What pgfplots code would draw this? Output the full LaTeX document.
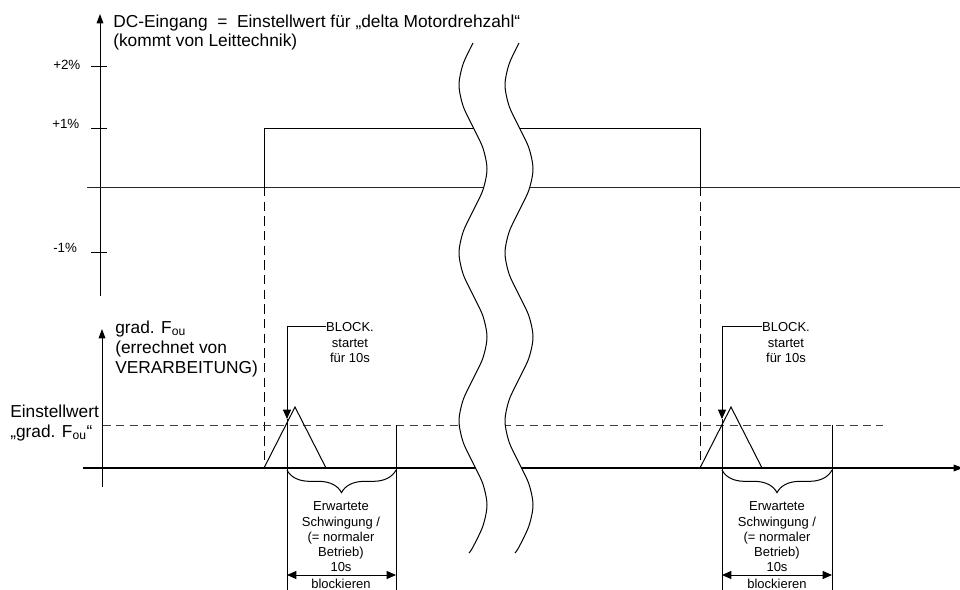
\documentclass[border=0pt]{standalone}
\usepackage{fontspec}
\setmainfont{Liberation Sans}
\usepackage{pgfplots}
\pgfplotsset{compat=1.18}
\usetikzlibrary{arrows.meta, decorations.pathreplacing}

\newcommand{\bigf}{\fontsize{13pt}{15pt}\selectfont}
\newcommand{\smallf}{\fontsize{9.75pt}{12pt}\selectfont}
\newcommand{\tickf}{\fontsize{10pt}{12pt}\selectfont}

% wave lines (break marks)
\pgfplotstableread{
y xl xr
43 473 519
64 463.1 509.1
85 459 505
106 463.1 509.1
127 473 519
148 482.9 528.9
169 487 533
190 482.9 528.9
211 473 519
232 463.1 509.1
253 459 505
274 463.1 509.1
295 473 519
316 482.9 528.9
337 487 533
358 482.9 528.9
379 473 519
400 463.1 509.1
421 459 505
442 463.1 509.1
463 473 519
484 482.9 528.9
505 487 533
526 482.9 528.9
547 473 519
553 469 515
}\wave

\begin{document}
\begin{tikzpicture}[every node/.append style={inner sep=0pt}]
\begin{axis}[
    width=720pt, height=441.75pt, scale only axis,
    xmin=0, xmax=960, ymin=0, ymax=589,
    y dir=reverse,
    hide axis, clip=false,
]
% ---- top panel
\addplot[black, line width=0.75pt, -{Triangle[length=7pt,width=5pt]}] coordinates {(100,296) (100,14)};
\addplot[black, line width=0.75pt] coordinates {(91,66) (107,66)};
\addplot[black, line width=0.75pt] coordinates {(91,128) (107,128)};
\addplot[black, line width=0.75pt] coordinates {(91,252) (107,252)};
\addplot[black!85, line width=0.75pt] coordinates {(87,187) (960,187)};
\addplot[black, line width=0.75pt] coordinates {(264,187) (264,128) (700,128) (700,187)};
\addplot[black, line width=0.75pt, dash pattern=on 7pt off 4pt] coordinates {(264,187) (264,468)};
\addplot[black, line width=0.75pt, dash pattern=on 7pt off 4pt] coordinates {(700,187) (700,468)};

% ---- bottom panel
\addplot[black, line width=0.75pt, -{Triangle[length=7pt,width=5pt]}] coordinates {(102,487) (102,329)};
\addplot[black, line width=0.8pt, -{Triangle[length=7pt,width=5pt]}] coordinates {(83,468) (963,468)};
\addplot[black!75, line width=0.75pt, dash pattern=on 6pt off 4pt] coordinates {(103,425) (883,425)};

% triangles
\addplot[black, line width=0.75pt] coordinates {(264,468) (295,407) (326,468)};
\addplot[black, line width=0.75pt] coordinates {(700,468) (731,407) (762,468)};

% BLOCK arrows
\addplot[black, line width=0.75pt, -{Triangle[length=7pt,width=6pt]}] coordinates {(326,326) (287,326) (287,419)};
\addplot[black, line width=0.75pt, -{Triangle[length=7pt,width=6pt]}] coordinates {(762,326) (722,326) (722,419)};

% blocking window
\addplot[black, line width=0.75pt] coordinates {(287,419) (287,592)};
\addplot[black, line width=0.75pt] coordinates {(396,425) (396,592)};
\addplot[black, line width=0.75pt] coordinates {(722,419) (722,592)};
\addplot[black, line width=0.75pt] coordinates {(832,425) (832,592)};
\addplot[black, line width=0.75pt, decorate, decoration={brace, mirror, amplitude=17pt}] coordinates {(287,470) (396,470)};
\addplot[black, line width=0.75pt, decorate, decoration={brace, mirror, amplitude=17pt}] coordinates {(722,470) (832,470)};
\addplot[black, line width=0.75pt, {Triangle[length=7pt,width=6pt]}-{Triangle[length=7pt,width=6pt]}] coordinates {(287,575) (396,575)};
\addplot[black, line width=0.75pt, {Triangle[length=7pt,width=6pt]}-{Triangle[length=7pt,width=6pt]}] coordinates {(722,575) (832,575)};

% ---- break between the two waves
\addplot[fill=white, draw=none] coordinates {
(473,43) (463.1,64) (459,85) (463.1,106) (473,127) (482.9,148) (487,169) (482.9,190)
(473,211) (463.1,232) (459,253) (463.1,274) (473,295) (482.9,316) (487,337) (482.9,358)
(473,379) (463.1,400) (459,421) (463.1,442) (473,463) (482.9,484) (487,505) (482.9,526)
(473,547) (469,553)
(515,553) (519,547) (528.9,526) (533,505) (528.9,484) (519,463) (509.1,442) (505,421)
(509.1,400) (519,379) (528.9,358) (533,337) (528.9,316) (519,295) (509.1,274) (505,253)
(509.1,232) (519,211) (528.9,190) (533,169) (528.9,148) (519,127) (509.1,106) (505,85)
(509.1,64) (519,43)} -- cycle;
\addplot[black, line width=0.75pt, smooth] table[x=xl, y=y] {\wave};
\addplot[black, line width=0.75pt, smooth] table[x=xr, y=y] {\wave};

% ---- texts
\node[anchor=base west, font=\bigf] at (113,27) {DC-Eingang\ \ =\ \ Einstellwert für „delta Motordrehzahl“};
\node[anchor=base west, font=\bigf] at (113,46) {(kommt von Leittechnik)};
\node[anchor=base west, font=\tickf] at (53,69) {+2\%};
\node[anchor=base west, font=\tickf] at (52,128) {+1\%};
\node[anchor=base west, font=\tickf] at (53,252) {-1\%};

\node[anchor=base west, font=\bigf] at (115,333) {grad. F\textsubscript{ou}};
\node[anchor=base west, font=\bigf] at (115,353) {(errechnet von};
\node[anchor=base west, font=\bigf] at (115,373) {VERARBEITUNG)};
\node[anchor=base west, font=\bigf] at (10,417) {Einstellwert};
\node[anchor=base west, font=\bigf] at (10,437) {„grad. F\textsubscript{ou}“};

\node[anchor=base, font=\smallf] at (350,331) {BLOCK.};
\node[anchor=base, font=\smallf] at (350,347) {startet};
\node[anchor=base, font=\smallf] at (350,362) {für 10s};
\node[anchor=base, font=\smallf] at (786,331) {BLOCK.};
\node[anchor=base, font=\smallf] at (786,347) {startet};
\node[anchor=base, font=\smallf] at (786,362) {für 10s};

\node[anchor=base, font=\smallf] at (341,510) {Erwartete};
\node[anchor=base, font=\smallf] at (341,526) {Schwingung /};
\node[anchor=base, font=\smallf] at (341,541) {(= normaler};
\node[anchor=base, font=\smallf] at (341,556) {Betrieb)};
\node[anchor=base, font=\smallf] at (341,571) {10s};
\node[anchor=base, font=\smallf] at (341,588) {blockieren};
\node[anchor=base, font=\smallf] at (777,510) {Erwartete};
\node[anchor=base, font=\smallf] at (777,526) {Schwingung /};
\node[anchor=base, font=\smallf] at (777,541) {(= normaler};
\node[anchor=base, font=\smallf] at (777,556) {Betrieb)};
\node[anchor=base, font=\smallf] at (777,571) {10s};
\node[anchor=base, font=\smallf] at (777,588) {blockieren};
\end{axis}
\pgfresetboundingbox
\path[use as bounding box] (current axis.south west) rectangle (current axis.north east);
\end{tikzpicture}
\end{document}
